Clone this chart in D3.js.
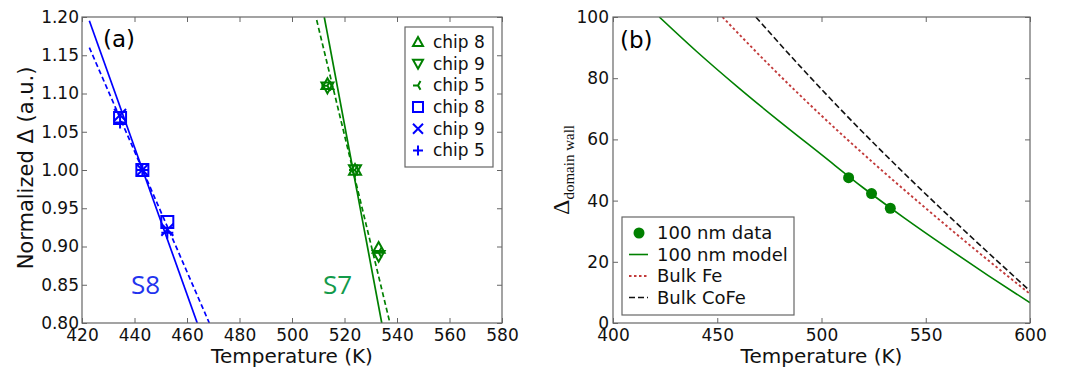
<!DOCTYPE html>
<html><head><meta charset="utf-8">
<script src="https://cdn.jsdelivr.net/npm/d3@7"></script>
<style>
body{margin:0;background:#fff;}
svg{font-family:"DejaVu Sans",sans-serif;}
</style></head><body>
<svg width="1083" height="374"></svg>
<script>
// ---- panel (a) data ----
var tempS8 = [434.5, 443, 452.5];
var tempS7 = [513.5, 524, 533];
var s8Chip8 = [1.068, 1.000, 0.932];
var s8Chip9 = [1.072, 1.000, 0.922];
var s8Chip5 = [1.062, 1.000, 0.918];
var s7Chip8 = [1.112, 1.000, 0.898];
var s7Chip9 = [1.108, 1.000, 0.888];
var s7Chip5 = [1.110, 1.000, 0.892];
// fitted lines (endpoints, data units)
var s8SolidT = [422.8, 463.9], s8SolidV = [1.195, 0.80];
var s8DashT  = [422.8, 468.5], s8DashV  = [1.160, 0.80];
var s7SolidT = [512.3, 534.2], s7SolidV = [1.200, 0.80];
var s7DashT  = [509.4, 537.3], s7DashV  = [1.196, 0.80];
var xTicksA = [420, 440, 460, 480, 500, 520, 540, 560, 580];
var yTicksA = [0.80, 0.85, 0.90, 0.95, 1.00, 1.05, 1.10, 1.15, 1.20];
var legendA = ["chip 8", "chip 9", "chip 5", "chip 8", "chip 9", "chip 5"];

// ---- panel (b) data ----
var dataT  = [513, 524, 533];
var dataV  = [47.5, 42.3, 37.5];
var modelT = [422.2, 440, 460, 480, 500, 520, 540, 560, 580, 600];
var modelV = [100, 88.8, 77.0, 65.8, 55.0, 44.2, 34.2, 24.7, 15.5, 6.6];
var feT    = [452.5, 475, 500, 525, 550, 575, 600];
var feV    = [100, 84.25, 67.75, 52.25, 37.5, 23.25, 9.5];
var cofeT  = [468.5, 490, 515, 540, 565, 590, 600];
var cofeV  = [100, 83.7, 65.7, 48.7, 32.45, 16.7, 10.5];
var xTicksB = [400, 450, 500, 550, 600];
var yTicksB = [0, 20, 40, 60, 80, 100];
var legendB = ["100 nm data", "100 nm model", "Bulk Fe", "Bulk CoFe"];

var BLUE = "#0000ff", GREEN = "#008000", RED = "#c23b3b", FRAME = "#666";

var svg = d3.select("svg");
svg.append("rect").attr("width", 1083).attr("height", 374).attr("fill", "#fff");

function zip(a, b){ return a.map(function(d, i){ return [d, b[i]]; }); }

function marker(type, r){
    switch(type){
        case "triUp":   return "M0," + (-r) + "L" + r + "," + (r*0.8) + "L" + (-r) + "," + (r*0.8) + "Z";
        case "triDown": return "M0," + r + "L" + r + "," + (-r*0.8) + "L" + (-r) + "," + (-r*0.8) + "Z";
        case "triLeft": return "M0,0L" + (-r) + ",0M0,0L" + (r*0.5) + "," + (-r*0.87) + "M0,0L" + (r*0.5) + "," + (r*0.87);
        case "square":  return "M" + (-r) + "," + (-r) + "H" + r + "V" + r + "H" + (-r) + "Z";
        case "x":       return "M" + (-r) + "," + (-r) + "L" + r + "," + r + "M" + (-r) + "," + r + "L" + r + "," + (-r);
        case "plus":    return "M" + (-r) + ",0H" + r + "M0," + (-r) + "V" + r;
    }
}

// frame + inward ticks on all four sides
function drawAxes(g, x, y, w, h, xt, yt, yfmt, xpad, ypad){
    g.append("g").attr("transform", "translate(0," + h + ")")
        .call(d3.axisBottom(x).tickValues(xt).tickSizeInner(-5).tickSizeOuter(0).tickPadding(xpad).tickFormat(d3.format("d")));
    g.append("g")
        .call(d3.axisTop(x).tickValues(xt).tickSizeInner(-5).tickSizeOuter(0).tickFormat(""));
    g.append("g")
        .call(d3.axisLeft(y).tickValues(yt).tickSizeInner(-5).tickSizeOuter(0).tickPadding(ypad).tickFormat(yfmt));
    g.append("g").attr("transform", "translate(" + w + ",0)")
        .call(d3.axisRight(y).tickValues(yt).tickSizeInner(-5).tickSizeOuter(0).tickFormat(""));
    g.selectAll(".domain").remove();
    g.selectAll(".tick line").attr("stroke", FRAME);
    g.selectAll(".tick text").attr("font-size", 17).attr("fill", "#111")
        .attr("font-family", "DejaVu Sans");
    g.append("rect").attr("width", w).attr("height", h)
        .attr("fill", "none").attr("stroke", FRAME).attr("stroke-width", 1.2);
}

// ================= panel (a) =================
var mA = {left: 82, top: 17}, wA = 420, hA = 306;
var gA = svg.append("g").attr("transform", "translate(" + mA.left + "," + mA.top + ")");
var xA = d3.scaleLinear().domain([420, 580]).range([0, wA]);
var yA = d3.scaleLinear().domain([0.80, 1.20]).range([hA, 0]);

gA.append("clipPath").attr("id", "clipA").append("rect").attr("width", wA).attr("height", hA);

var lineA = d3.line().x(function(d){ return xA(d[0]); }).y(function(d){ return yA(d[1]); });
var fitsA = [
    {t: s8SolidT, v: s8SolidV, c: BLUE, dash: null},
    {t: s8DashT,  v: s8DashV,  c: BLUE, dash: "5,3"},
    {t: s7SolidT, v: s7SolidV, c: GREEN, dash: null},
    {t: s7DashT,  v: s7DashV,  c: GREEN, dash: "5,3"}
];
fitsA.forEach(function(f){
    gA.append("path").datum(zip(f.t, f.v))
        .attr("clip-path", "url(#clipA)")
        .attr("fill", "none").attr("stroke", f.c).attr("stroke-width", 1.7)
        .attr("stroke-dasharray", f.dash)
        .attr("d", lineA);
});

var seriesA = [
    {t: tempS7, v: s7Chip8, m: "triUp",   c: GREEN},
    {t: tempS7, v: s7Chip9, m: "triDown", c: GREEN},
    {t: tempS7, v: s7Chip5, m: "triLeft", c: GREEN},
    {t: tempS8, v: s8Chip8, m: "square",  c: BLUE},
    {t: tempS8, v: s8Chip9, m: "x",       c: BLUE},
    {t: tempS8, v: s8Chip5, m: "plus",    c: BLUE}
];
seriesA.forEach(function(s){
    gA.selectAll(null).data(zip(s.t, s.v)).enter().append("path")
        .attr("transform", function(d){ return "translate(" + xA(d[0]) + "," + yA(d[1]) + ")"; })
        .attr("d", marker(s.m, 6))
        .attr("fill", "none").attr("stroke", s.c).attr("stroke-width", 2);
});

drawAxes(gA, xA, yA, wA, hA, xTicksA, yTicksA, d3.format(".2f"), 6, 3);

gA.append("text").attr("x", 21).attr("y", 30).attr("font-size", 23).text("(a)");
gA.append("text").attr("x", 49).attr("y", 277).attr("font-size", 26)
    .attr("font-family", "Open Sans").attr("fill", "#2233ee").text("S8");
gA.append("text").attr("x", 241).attr("y", 277).attr("font-size", 26)
    .attr("font-family", "Open Sans").attr("fill", "#139a4a").text("S7");

// legend (a)
var legA = gA.append("g").attr("transform", "translate(323,10)");
legA.append("rect").attr("width", 88).attr("height", 140)
    .attr("fill", "#fff").attr("stroke", FRAME).attr("stroke-width", 1.2);
legendA.forEach(function(name, i){
    var row = legA.append("g").attr("transform", "translate(0," + (15 + i * 21.7) + ")");
    row.append("path").attr("transform", "translate(13,0)")
        .attr("d", marker(seriesA[i].m, 5))
        .attr("fill", "none").attr("stroke", seriesA[i].c).attr("stroke-width", 2);
    row.append("text").attr("x", 28).attr("dy", "0.35em").attr("font-size", 17).attr("fill", "#111").text(name);
});

svg.append("text").attr("transform", "translate(33,168) rotate(-90)")
    .attr("text-anchor", "middle").attr("font-size", 21).attr("fill", "#111")
    .text("Normalized \u0394 (a.u.)");
svg.append("text").attr("x", mA.left + wA / 2).attr("y", 363)
    .attr("text-anchor", "middle").attr("font-size", 20).attr("fill", "#111")
    .text("Temperature (K)");

// ================= panel (b) =================
var mB = {left: 613, top: 17}, wB = 417, hB = 306;
var gB = svg.append("g").attr("transform", "translate(" + mB.left + "," + mB.top + ")");
var xB = d3.scaleLinear().domain([400, 600]).range([0, wB]);
var yB = d3.scaleLinear().domain([0, 100]).range([hB, 0]);

gB.append("clipPath").attr("id", "clipB").append("rect").attr("width", wB).attr("height", hB);

var lineB = d3.line().curve(d3.curveMonotoneX)
    .x(function(d){ return xB(d[0]); }).y(function(d){ return yB(d[1]); });

var curvesB = [
    {t: cofeT,  v: cofeV,  c: "#111", dash: "6,3", w: 1.6},
    {t: feT,    v: feV,    c: RED,    dash: "2.5,2.5", w: 1.9},
    {t: modelT, v: modelV, c: GREEN,  dash: null, w: 1.6}
];
curvesB.forEach(function(k){
    gB.append("path").datum(zip(k.t, k.v))
        .attr("clip-path", "url(#clipB)")
        .attr("fill", "none").attr("stroke", k.c).attr("stroke-width", k.w)
        .attr("stroke-dasharray", k.dash)
        .attr("d", lineB);
});

gB.selectAll(".dot").data(zip(dataT, dataV)).enter().append("circle")
    .attr("cx", function(d){ return xB(d[0]); })
    .attr("cy", function(d){ return yB(d[1]); })
    .attr("r", 5.5).attr("fill", GREEN);

drawAxes(gB, xB, yB, wB, hB, xTicksB, yTicksB, d3.format("d"), 6, 4);

gB.append("text").attr("x", 7).attr("y", 31).attr("font-size", 23).text("(b)");

// legend (b)
var legB = gB.append("g").attr("transform", "translate(9,200)");
legB.append("rect").attr("width", 172).attr("height", 98)
    .attr("fill", "#fff").attr("stroke", FRAME).attr("stroke-width", 1.2);
var legStyles = [
    {c: GREEN, dash: null, dot: true},
    {c: GREEN, dash: null, w: 1.6},
    {c: RED, dash: "2.5,2.5", w: 1.9},
    {c: "#111", dash: "6,3", w: 1.6}
];
legendB.forEach(function(name, i){
    var row = legB.append("g").attr("transform", "translate(0," + (16 + i * 21.5) + ")");
    var s = legStyles[i];
    if (s.dot) {
        row.append("circle").attr("cx", 17).attr("r", 5.5).attr("fill", s.c);
    } else {
        row.append("line").attr("x1", 7).attr("x2", 26)
            .attr("stroke", s.c).attr("stroke-width", s.w).attr("stroke-dasharray", s.dash);
    }
    row.append("text").attr("x", 35).attr("dy", "0.35em").attr("font-size", 18).attr("fill", "#111").text(name);
});

var yl = svg.append("text").attr("transform", "translate(569,170) rotate(-90)")
    .attr("text-anchor", "middle").attr("font-family", "Liberation Serif, serif").attr("fill", "#111");
yl.append("tspan").attr("font-size", 24).text("\u0394");
yl.append("tspan").attr("font-size", 15).attr("dy", 5).text("domain wall");

svg.append("text").attr("x", mB.left + wB / 2).attr("y", 363)
    .attr("text-anchor", "middle").attr("font-size", 20).attr("fill", "#111")
    .text("Temperature (K)");
</script>
</body></html>
